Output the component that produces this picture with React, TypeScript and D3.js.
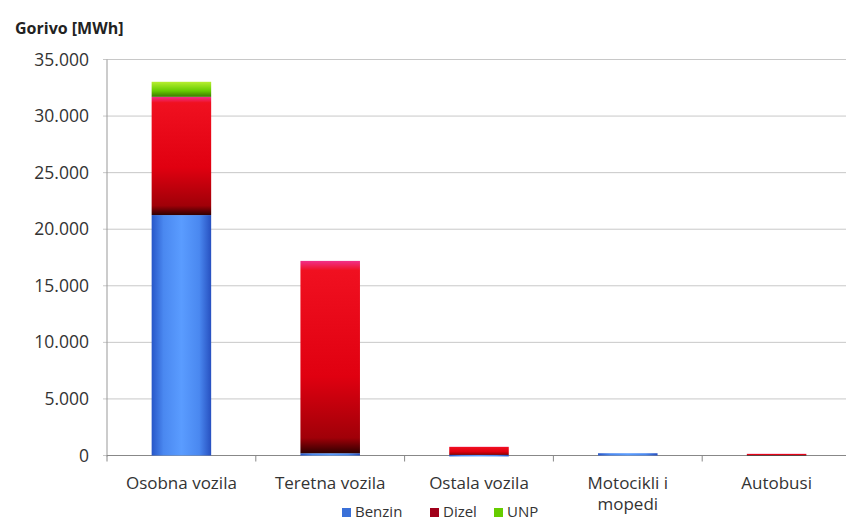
import React from "react";
import * as d3 from "d3";

const categories: string[][] = [
  ["Osobna vozila"],
  ["Teretna vozila"],
  ["Ostala vozila"],
  ["Motocikli i", "mopedi"],
  ["Autobusi"],
];
const benzin = [21250, 200, 50, 200, 0];
const dizel = [10450, 17000, 720, 0, 150];
const unp = [1330, 0, 0, 0, 0];
const seriesNames = ["Benzin", "Dizel", "UNP"];
const yTicks = [0, 5000, 10000, 15000, 20000, 25000, 30000, 35000];

const W = 846, H = 524;
const left = 107, right = 851, top = 59.5, bottom = 455.5;
const font = "'Open Sans', Lato, sans-serif";

export default function App() {
  const x = d3.scaleBand<number>().domain(d3.range(categories.length)).range([left, right]).paddingInner(0.6).paddingOuter(0.3);
  const y = d3.scaleLinear().domain([0, 35000]).range([bottom, top]);
  const fmt = (v: number) => d3.format(",")(v).replace(/,/g, ".");
  const rows = categories.map((_, i) => ({ i, Benzin: benzin[i], Dizel: dizel[i], UNP: unp[i] }));
  const stack = d3.stack<any>().keys(seriesNames)(rows);
  const fills = ["url(#gB)", "url(#gD)", "url(#gU)"];
  const bandStep = (right - left) / categories.length;
  return (
    <svg width={W} height={H} style={{ display: "block", position: "absolute", left: 0, top: 0, background: "#fff" }}>
      <defs>
        <linearGradient id="gB" x1="0" y1="0" x2="1" y2="0">
          <stop offset="0" stopColor="#2756c8" />
          <stop offset="0.2" stopColor="#4a88f0" />
          <stop offset="0.5" stopColor="#5a9cff" />
          <stop offset="0.8" stopColor="#4a88f0" />
          <stop offset="1" stopColor="#2750c0" />
        </linearGradient>
        <linearGradient id="gD" x1="0" y1="0" x2="0" y2="1">
          <stop offset="0" stopColor="#f0308a" />
          <stop offset="0.05" stopColor="#f01020" />
          <stop offset="0.6" stopColor="#e00010" />
          <stop offset="0.92" stopColor="#a00008" />
          <stop offset="1" stopColor="#300000" />
        </linearGradient>
        <linearGradient id="gU" x1="0" y1="0" x2="0" y2="1">
          <stop offset="0" stopColor="#b8ee30" />
          <stop offset="0.6" stopColor="#66cc00" />
          <stop offset="1" stopColor="#3a7a00" />
        </linearGradient>
      </defs>
      <text x={15} y={34} fontFamily={font} fontWeight="bold" fontSize={16} fill="#222">Gorivo [MWh]</text>
      {yTicks.map((t) => (
        <g key={t}>
          <line x1={left - 4} x2={W} y1={y(t)} y2={y(t)} stroke="#c8c8c8" strokeWidth={1} />
          <text x={89} y={y(t) + 6} textAnchor="end" fontFamily={font} fontSize={17.5} fill="#333">{fmt(t)}</text>
        </g>
      ))}
      <line x1={left} x2={left} y1={top} y2={bottom + 1} stroke="#999" />
      <line x1={left} x2={W} y1={bottom} y2={bottom} stroke="#888" />
      {d3.range(categories.length + 1).map((k) => (
        <line key={k} x1={left + k * bandStep} x2={left + k * bandStep} y1={bottom} y2={bottom + 6} stroke="#888" />
      ))}
      {stack.map((s, si) =>
        s.map((d, i) => {
          const h = y(d[0]) - y(d[1]);
          if (h <= 0) return null;
          return (
            <rect key={si + "-" + i} x={x(i)!} width={x.bandwidth()} y={y(d[1])} height={Math.max(h, 1.5)} fill={fills[si]} />
          );
        })
      )}
      {categories.map((lines, i) => (
        <text key={i} textAnchor="middle" fontFamily={font} fontSize={17} fill="#333">
          {lines.map((l, j) => (
            <tspan key={j} x={x(i)! + x.bandwidth() / 2} y={489 + j * 21}>{l}</tspan>
          ))}
        </text>
      ))}
      {seriesNames.map((n, i) => {
        const lx = [342, 430, 494][i];
        const colors = ["#3a70d8", "#a0001a", "#66cc00"];
        return (
          <g key={n}>
            <rect x={lx} y={508} width={9} height={9} fill={colors[i]} />
            <text x={lx + 13} y={517} fontFamily={font} fontSize={15} fill="#333">{n}</text>
          </g>
        );
      })}
    </svg>
  );
}
